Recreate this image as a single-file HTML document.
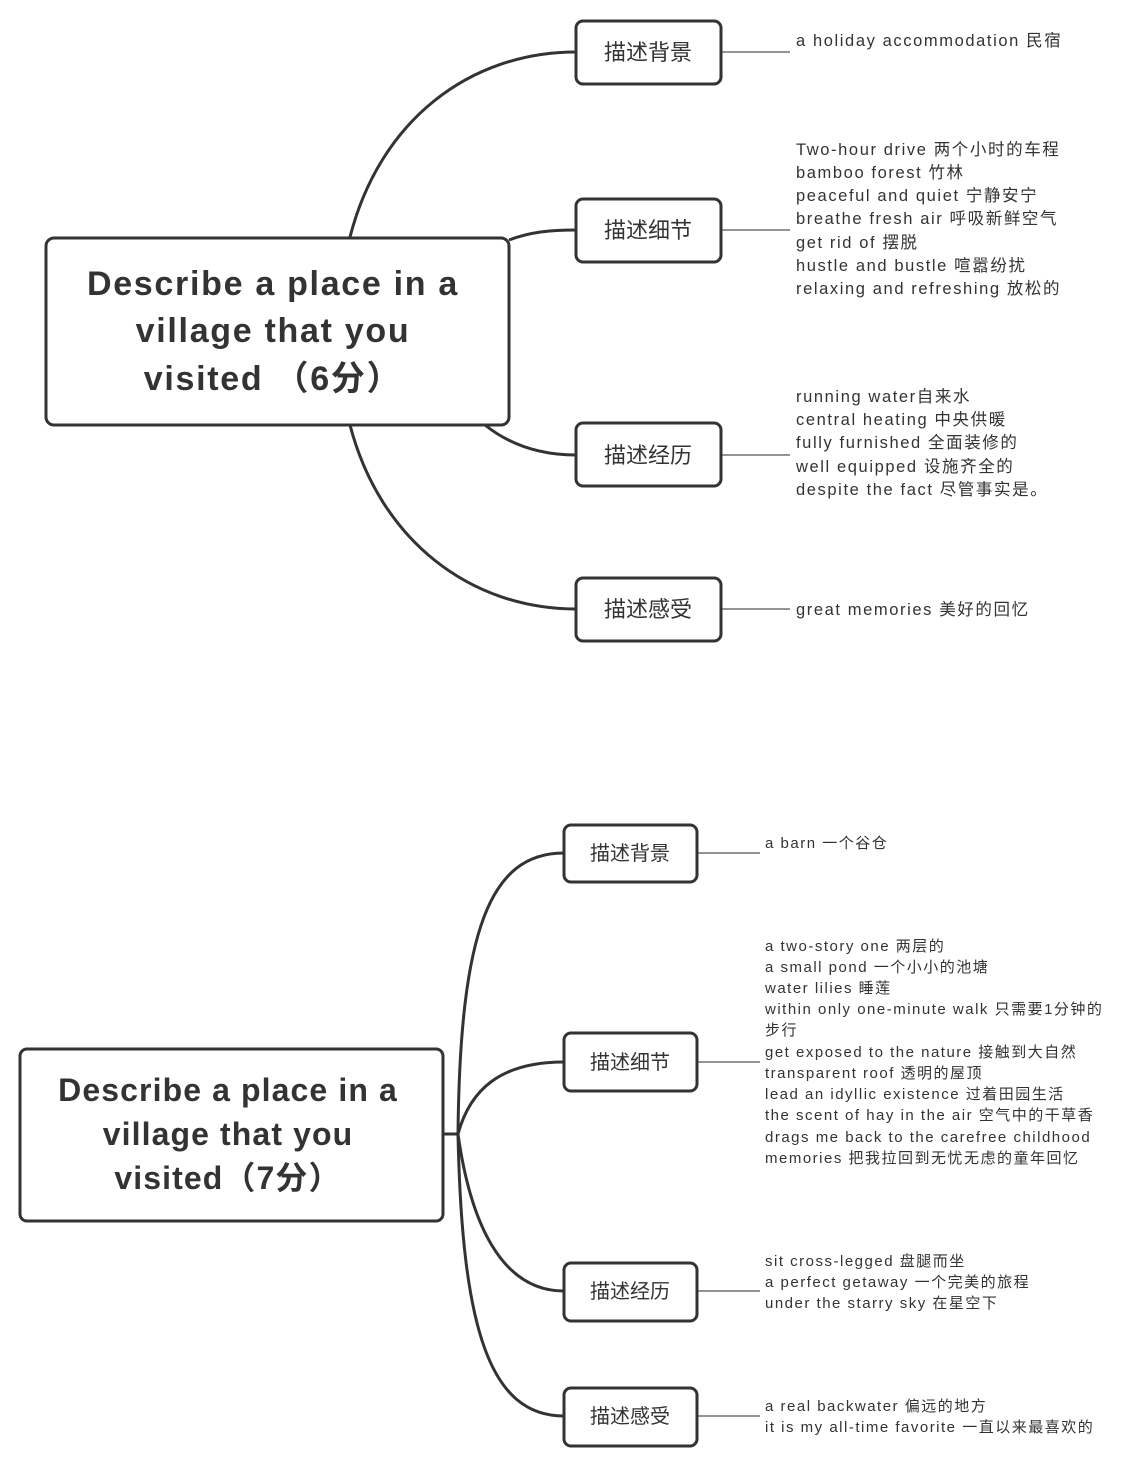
<!DOCTYPE html>
<html><head><meta charset="utf-8"><style>
html,body{margin:0;padding:0;background:#fff;}
svg{display:block}
text{font-family:"Liberation Sans","Noto Sans CJK SC",sans-serif;fill:#333;}
.t{font-weight:bold;fill:#333;}
</style></head><body>
<svg width="1131" height="1461" viewBox="0 0 1131 1461" xmlns="http://www.w3.org/2000/svg">
<g fill="none" stroke="#333" stroke-width="3">
<path d="M350,237 C380,120 470,52 576,52"/>
<path d="M509,240 C530,232 550,230 576,230"/>
<path d="M485,425 C510,445 540,455 576,455"/>
<path d="M350,425 C380,540 470,609 576,609"/>
<path d="M443,1134 L458,1134"/>
<path d="M458,1134 C460,930 490,853 564,853"/>
<path d="M458,1134 C470,1090 500,1062 564,1062"/>
<path d="M458,1134 C470,1220 500,1291 564,1291"/>
<path d="M458,1134 C462,1330 490,1416 564,1416"/>
</g>
<g fill="none" stroke="#555" stroke-width="1.2">
<line x1="721" y1="52" x2="790" y2="52"/>
<line x1="721" y1="230" x2="790" y2="230"/>
<line x1="721" y1="455" x2="790" y2="455"/>
<line x1="721" y1="609" x2="790" y2="609"/>
<line x1="697" y1="853" x2="760" y2="853"/>
<line x1="697" y1="1062" x2="760" y2="1062"/>
<line x1="697" y1="1291" x2="760" y2="1291"/>
<line x1="697" y1="1416" x2="760" y2="1416"/>
</g>
<g fill="#fff" stroke="#333" stroke-width="3">
<rect x="46" y="238" width="463" height="187" rx="8"/>
<rect x="576" y="21" width="145" height="63" rx="7"/>
<rect x="576" y="199" width="145" height="63" rx="7"/>
<rect x="576" y="423" width="145" height="63" rx="7"/>
<rect x="576" y="578" width="145" height="63" rx="7"/>
<rect x="20" y="1049" width="423" height="172" rx="7"/>
<rect x="564" y="825" width="133" height="57" rx="7"/>
<rect x="564" y="1033" width="133" height="58" rx="7"/>
<rect x="564" y="1263" width="133" height="58" rx="7"/>
<rect x="564" y="1388" width="133" height="58" rx="7"/>
</g>
<g font-size="34" text-anchor="middle" letter-spacing="1.7">
<text x="273" y="295" class="t">Describe a place in a</text>
<text x="273" y="342" class="t">village that you</text>
<text x="273" y="390" class="t">visited （6分）</text>
</g>
<g font-size="32" text-anchor="middle" letter-spacing="1.1">
<text x="228" y="1101" class="t">Describe a place in a</text>
<text x="228" y="1145" class="t">village that you</text>
<text x="228" y="1189" class="t">visited（7分）</text>
</g>
<g font-size="22" text-anchor="middle">
<text x="648" y="60">描述背景</text>
<text x="648" y="238">描述细节</text>
<text x="648" y="463">描述经历</text>
<text x="648" y="617">描述感受</text>
</g>
<g font-size="20" text-anchor="middle">
<text x="630" y="860">描述背景</text>
<text x="630" y="1069">描述细节</text>
<text x="630" y="1298">描述经历</text>
<text x="630" y="1423">描述感受</text>
</g>
<g font-size="16.5" letter-spacing="1.6">
<text x="796" y="46">a holiday accommodation 民宿</text>
<text x="796" y="155">Two-hour drive 两个小时的车程</text>
<text x="796" y="178">bamboo forest 竹林</text>
<text x="796" y="201">peaceful and quiet 宁静安宁</text>
<text x="796" y="224">breathe fresh air 呼吸新鲜空气</text>
<text x="796" y="248">get rid of 摆脱</text>
<text x="796" y="271">hustle and bustle 喧嚣纷扰</text>
<text x="796" y="294">relaxing and refreshing 放松的</text>
<text x="796" y="402">running water自来水</text>
<text x="796" y="425">central heating 中央供暖</text>
<text x="796" y="448">fully furnished 全面装修的</text>
<text x="796" y="472">well equipped 设施齐全的</text>
<text x="796" y="495">despite the fact 尽管事实是。</text>
<text x="796" y="615">great memories 美好的回忆</text>
</g>
<g font-size="15" letter-spacing="1.5">
<text x="765" y="848">a barn 一个谷仓</text>
<text x="765" y="951">a two-story one 两层的</text>
<text x="765" y="972">a small pond 一个小小的池塘</text>
<text x="765" y="993">water lilies 睡莲</text>
<text x="765" y="1014">within only one-minute walk 只需要1分钟的</text>
<text x="765" y="1035">步行</text>
<text x="765" y="1057">get exposed to the nature 接触到大自然</text>
<text x="765" y="1078">transparent roof 透明的屋顶</text>
<text x="765" y="1099">lead an idyllic existence 过着田园生活</text>
<text x="765" y="1120">the scent of hay in the air 空气中的干草香</text>
<text x="765" y="1142">drags me back to the carefree childhood</text>
<text x="765" y="1163">memories 把我拉回到无忧无虑的童年回忆</text>
<text x="765" y="1266">sit cross-legged 盘腿而坐</text>
<text x="765" y="1287">a perfect getaway 一个完美的旅程</text>
<text x="765" y="1308">under the starry sky 在星空下</text>
<text x="765" y="1411">a real backwater 偏远的地方</text>
<text x="765" y="1432">it is my all-time favorite 一直以来最喜欢的</text>
</g>
</svg>
</body></html>
